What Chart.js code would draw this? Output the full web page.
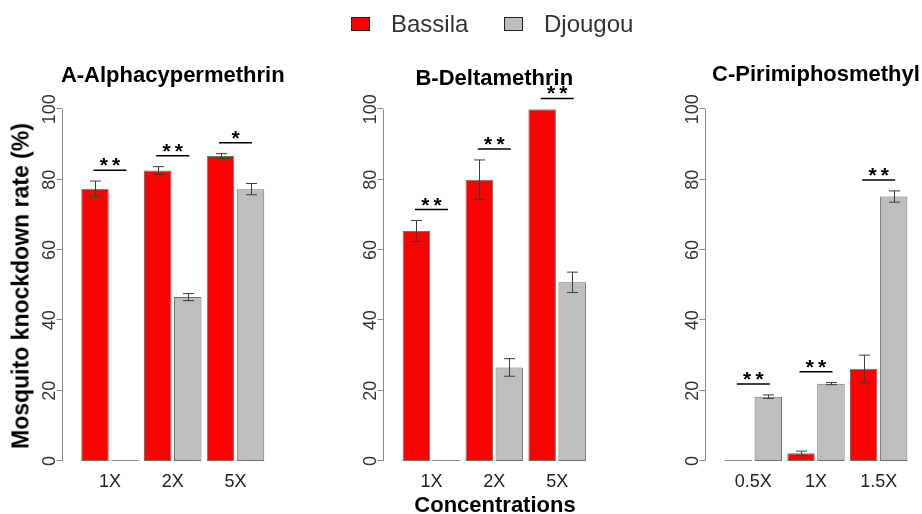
<!DOCTYPE html>
<html>
<head>
<meta charset="utf-8">
<script src="https://cdn.jsdelivr.net/npm/chart.js@4.4.1/dist/chart.umd.min.js"></script>
<style>
  html, body { margin: 0; padding: 0; background: #fff; }
  #wrap { position: relative; width: 922px; height: 514px; overflow: hidden;
          font-family: "Liberation Sans", Arial, sans-serif; }
  #wrap canvas { position: absolute; left: 0; top: 0; }
  .txt { position: absolute; white-space: nowrap; line-height: 1; }
  .box { position: absolute; box-sizing: border-box; border: 1px solid #222; }
</style>
</head>
<body>
<div id="wrap">
  <canvas id="panelA" width="922" height="514"></canvas>
  <canvas id="panelB" width="922" height="514"></canvas>
  <canvas id="panelC" width="922" height="514"></canvas>

  <div class="box" style="left:351px;top:17px;width:19px;height:14px;background:#ff0000;"></div>
  <div class="txt" style="left:391px;top:12px;font-size:24px;color:#333;">Bassila</div>
  <div class="box" style="left:504px;top:17px;width:19px;height:14px;background:#bebebe;"></div>
  <div class="txt" style="left:544px;top:12px;font-size:24px;color:#333;">Djougou</div>

  <div class="txt" style="left:21px;top:286px;font-size:23px;font-weight:bold;color:#000;
       transform:translate(-50%,-50%) rotate(-90deg);">Mosquito knockdown rate (%)</div>
  <div class="txt" style="left:495px;top:494px;font-size:22px;font-weight:bold;color:#000;
       transform:translateX(-50%);">Concentrations</div>
</div>

<script>
// Concentration categories for each insecticide
const concentrationsA = ['1X', '2X', '5X'];
const concentrationsB = ['1X', '2X', '5X'];
const concentrationsC = ['0.5X', '1X', '1.5X'];

// Knockdown rate (%) and standard error, Bassila population
const bassilaA = [77.4, 82.6, 86.7];
const bassilaErrA = [2.2, 1.1, 0.7];
const bassilaB = [65.4, 80.0, 100];
const bassilaErrB = [3.0, 5.6, 0];
const bassilaC = [0, 2.2, 26.2];
const bassilaErrC = [0, 0.6, 3.9];

// Knockdown rate (%) and standard error, Djougou population
const djougouA = [0, 46.6, 77.3];
const djougouErrA = [0, 1.0, 1.6];
const djougouB = [0, 26.6, 50.8];
const djougouErrB = [0, 2.5, 2.9];
const djougouC = [18.3, 22.0, 75.2];
const djougouErrC = [0.5, 0.3, 1.6];

// Significance marks between the two populations
const signifA = ['**', '**', '*'];
const signifB = ['**', '**', '**'];
const signifC = ['**', '**', '**'];

// Y axis tick values
const yTicks = [0, 20, 40, 60, 80, 100];

const FONT = '"Liberation Sans", Arial, sans-serif';
const RED = '#ff0000', GREY = '#bebebe', EDGE = '#707070';

function decorPlugin(title, titleBaseline, marks) {
  return {
    id: 'panelDecor',
    afterDatasetsDraw(chart) {
      const ctx = chart.ctx;
      const xs = chart.scales.x, ys = chart.scales.y;
      const area = chart.chartArea;
      const axisX = Math.round(area.left - 17) + 0.5;
      ctx.save();

      // zero-height bars and error bars
      chart.data.datasets.forEach((ds, di) => {
        const meta = chart.getDatasetMeta(di);
        meta.data.forEach((bar, i) => {
          const v = ds.data[i], e = ds.errors[i];
          const half = bar.width / 2;
          if (v === 0) {
            const py = Math.round(ys.getPixelForValue(0)) - 0.5;
            ctx.strokeStyle = '#8a8a8a';
            ctx.lineWidth = 1;
            ctx.beginPath();
            ctx.moveTo(bar.x - half, py);
            ctx.lineTo(bar.x + half, py);
            ctx.stroke();
          }
          if (e > 0) {
            const yt = ys.getPixelForValue(v + e), yb = ys.getPixelForValue(v - e);
            const cx = Math.round(bar.x) + 0.5, cap = 5.5;
            ctx.strokeStyle = '#3c3c3c';
            ctx.lineWidth = 1;
            ctx.beginPath();
            ctx.moveTo(cx, yt); ctx.lineTo(cx, yb);
            ctx.moveTo(cx - cap, yt); ctx.lineTo(cx + cap, yt);
            ctx.moveTo(cx - cap, yb); ctx.lineTo(cx + cap, yb);
            ctx.stroke();
          }
        });
      });

      // significance brackets above each concentration
      marks.forEach((m, i) => {
        let top = 0;
        chart.data.datasets.forEach(ds => { top = Math.max(top, ds.data[i] + ds.errors[i]); });
        const py = ys.getPixelForValue(top + 3.1);
        const cx = xs.getPixelForValue(i);
        ctx.strokeStyle = '#000';
        ctx.lineWidth = 1.5;
        ctx.beginPath();
        ctx.moveTo(cx - 16.5, py); ctx.lineTo(cx + 16.5, py);
        ctx.stroke();
        ctx.fillStyle = '#000';
        ctx.font = 'bold 21px ' + FONT;
        ctx.textAlign = 'center';
        ctx.textBaseline = 'alphabetic';
        ctx.fillText(m.split('').join('\u2009'), cx, py + 2);
      });

      // y axis line, ticks and rotated labels
      const y0 = ys.getPixelForValue(0), y100 = ys.getPixelForValue(100);
      ctx.strokeStyle = '#8a8a8a';
      ctx.lineWidth = 1;
      ctx.beginPath();
      ctx.moveTo(axisX, y0); ctx.lineTo(axisX, y100);
      yTicks.forEach(t => {
        const py = Math.round(ys.getPixelForValue(t)) - 0.5;
        ctx.moveTo(axisX, py); ctx.lineTo(axisX - 6, py);
      });
      ctx.stroke();
      ctx.fillStyle = '#333';
      ctx.font = '18px ' + FONT;
      ctx.textAlign = 'center';
      ctx.textBaseline = 'alphabetic';
      yTicks.forEach(t => {
        const py = ys.getPixelForValue(t);
        ctx.save();
        ctx.translate(axisX - 14, py);
        ctx.rotate(-Math.PI / 2);
        ctx.fillText(String(t), 0, 0.358 * 18);
        ctx.restore();
      });

      // category labels
      ctx.fillStyle = '#222';
      chart.data.labels.forEach((lab, i) => {
        ctx.fillText(lab, xs.getPixelForValue(i), 486.5);
      });

      // panel title
      ctx.fillStyle = '#000';
      ctx.font = 'bold 22px ' + FONT;
      ctx.fillText(title, (area.left + area.right) / 2, titleBaseline);
      ctx.restore();
    }
  };
}

function makePanel(id, labels, red, redErr, grey, greyErr, marks, title, titleBaseline, left, right) {
  const W = 922, H = 514, top = 109.3, bottom = 461;
  new Chart(document.getElementById(id), {
    type: 'bar',
    data: {
      labels: labels,
      datasets: [
        { label: 'Bassila', data: red, errors: redErr, backgroundColor: RED,
          borderColor: EDGE, borderWidth: 1, borderSkipped: false },
        { label: 'Djougou', data: grey, errors: greyErr, backgroundColor: GREY,
          borderColor: EDGE, borderWidth: 1, borderSkipped: false }
      ]
    },
    options: {
      responsive: false,
      animation: false,
      devicePixelRatio: 1,
      layout: { padding: { left: left, right: W - right, top: top, bottom: H - bottom } },
      datasets: { bar: { categoryPercentage: 0.955, barPercentage: 0.917 } },
      plugins: { legend: { display: false }, title: { display: false }, tooltip: { enabled: false } },
      scales: {
        x: { type: 'category', offset: true, display: false },
        y: { min: 0, max: 100, display: false }
      }
    },
    plugins: [decorPlugin(title, titleBaseline, marks)]
  });
}

makePanel('panelA', concentrationsA, bassilaA, bassilaErrA, djougouA, djougouErrA, signifA,
          'A-Alphacypermethrin', 82, 78.6, 266.9);
makePanel('panelB', concentrationsB, bassilaB, bassilaErrB, djougouB, djougouErrB, signifB,
          'B-Deltamethrin', 85, 400, 588.6);
makePanel('panelC', concentrationsC, bassilaC, bassilaErrC, djougouC, djougouErrC, signifC,
          'C-Pirimiphosmethyl', 81, 722, 910);
</script>
</body>
</html>
